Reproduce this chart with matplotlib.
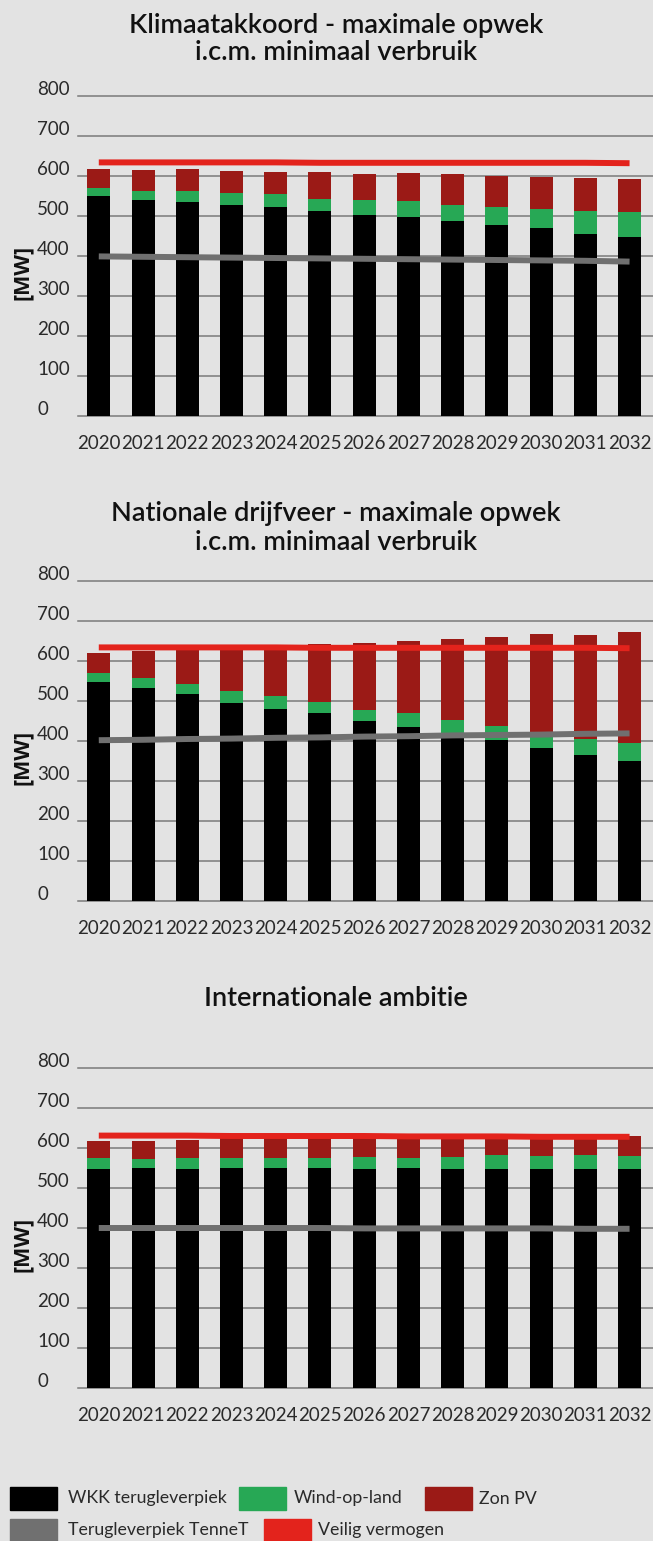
import matplotlib
matplotlib.use("Agg")
import matplotlib.pyplot as plt
from matplotlib.patches import Rectangle
from matplotlib.transforms import blended_transform_factory
import numpy as np

plt.rcParams['font.family'] = ['Lato', 'DejaVu Sans']

years = [str(y) for y in range(2020, 2033)]
y_ticks = [0, 100, 200, 300, 400, 500, 600, 700, 800]

# Klimaatakkoord
ka_wkk = [550, 540, 535, 527, 522, 512, 502, 497, 487, 477, 470, 455, 447]
ka_wind = [20, 22, 27, 30, 33, 30, 38, 40, 40, 45, 47, 57, 62]
ka_zon = [47, 53, 55, 55, 55, 68, 65, 70, 78, 78, 80, 83, 83]
ka_tennet = [399, 398, 397, 396, 395, 394, 393, 392, 391, 390, 389, 388, 386]
ka_veilig = [634, 634, 634, 634, 634, 633, 633, 633, 633, 633, 633, 633, 632]

# Nationale drijfveer
nd_wkk = [547, 532, 517, 495, 480, 470, 450, 435, 410, 402, 382, 365, 350]
nd_wind = [23, 25, 25, 30, 32, 27, 27, 35, 42, 35, 38, 40, 45]
nd_zon = [50, 68, 90, 111, 127, 145, 168, 180, 203, 223, 247, 260, 277]
nd_tennet = [402, 403, 405, 406, 408, 409, 411, 412, 414, 415, 416, 418, 419]
nd_veilig = [634, 634, 634, 634, 634, 633, 633, 633, 633, 633, 633, 633, 632]

# Internationale ambitie
ia_wkk = [548, 551, 548, 551, 551, 551, 548, 551, 548, 548, 548, 548, 548]
ia_wind = [28, 22, 28, 25, 25, 25, 30, 25, 30, 35, 33, 35, 33]
ia_zon = [42, 45, 45, 49, 49, 49, 47, 49, 47, 42, 44, 42, 50]
ia_tennet = [400, 400, 400, 400, 400, 400, 399, 399, 399, 399, 399, 398, 398]
ia_veilig = [631, 631, 631, 630, 630, 630, 630, 629, 629, 629, 628, 628, 628]

C_WKK = '#000000'
C_WIND = '#27a855'
C_ZON = '#9b1a16'
C_TENNET = '#707070'
C_VEILIG = '#e3231c'
BG = '#e3e3e3'
TXT = '#2a2a2a'

W, H = 653, 1541
fig = plt.figure(figsize=(W / 100, H / 100), dpi=100, facecolor=BG)

charts = [
    ("Klimaatakkoord - maximale opwek\ni.c.m. minimaal verbruik", ka_wkk, ka_wind, ka_zon, ka_tennet, ka_veilig, 416, 39),
    ("Nationale drijfveer - maximale opwek\ni.c.m. minimaal verbruik", nd_wkk, nd_wind, nd_zon, nd_tennet, nd_veilig, 901, 528),
    ("Internationale ambitie", ia_wkk, ia_wind, ia_zon, ia_tennet, ia_veilig, 1388, 998),
]

x = np.arange(len(years))
for title, wkk, wind, zon, tennet, veilig, base_px, title_px in charts:
    ax = fig.add_axes([78 / W, (H - base_px) / H, 575 / W, 320 / H])
    ax.set_facecolor(BG)
    for t in y_ticks:
        ax.axhline(t, color='#7a7a7a', lw=1.1, zorder=0, clip_on=False)
    wkk = np.array(wkk)
    wind = np.array(wind)
    ax.bar(x, wkk, 0.52, color=C_WKK, zorder=2)
    ax.bar(x, wind, 0.52, bottom=wkk, color=C_WIND, zorder=2)
    ax.bar(x, zon, 0.52, bottom=wkk + wind, color=C_ZON, zorder=2)
    ax.plot(x, tennet, color=C_TENNET, lw=4.3, solid_capstyle='butt', zorder=3)
    ax.plot(x, veilig, color=C_VEILIG, lw=4.3, solid_capstyle='butt', zorder=3)
    ax.set_xlim(-0.47, 12.53)
    ax.set_ylim(0, 800)
    for s in ax.spines.values():
        s.set_visible(False)
    ax.set_yticks([])
    ax.set_xticks(x)
    ax.set_xticklabels(years, fontsize=13.5, color=TXT)
    ax.tick_params(axis='x', length=0, pad=14)
    tr = blended_transform_factory(fig.transFigure, ax.transData)
    for t in y_ticks:
        ax.text(37 / W, t + 3, str(t), transform=tr, ha='left', va='baseline',
                fontsize=13.5, color=TXT)
    fig.text(22 / W, (H - base_px + 144) / H, '[MW]', rotation=90, ha='center', va='center',
             fontsize=15.5, fontweight='bold', family=['Open Sans', 'DejaVu Sans'], color='#111111')
    fig.text(336 / W, (H - title_px) / H, title, ha='center', va='center',
             fontsize=19.5, fontweight='semibold', linespacing=1.15, color='#111111')

# legend
legend_items = [
    (10, 1487, C_WKK, 'WKK terugleverpiek', 68),
    (239, 1487, C_WIND, 'Wind-op-land', 294),
    (425, 1487, C_ZON, 'Zon PV', 479),
    (10, 1519, C_TENNET, 'Terugleverpiek TenneT', 68),
    (264, 1519, C_VEILIG, 'Veilig vermogen', 318),
]
for px, py, col, label, tx in legend_items:
    fig.patches.append(Rectangle((px / W, (H - py - 23) / H), 47 / W, 23 / H,
                                 transform=fig.transFigure, color=col, zorder=5))
    fig.text(tx / W, (H - py - 11.5) / H, label, ha='left', va='center',
             fontsize=12.8, color=TXT)

fig.savefig('out.png', dpi=100, facecolor=BG)
